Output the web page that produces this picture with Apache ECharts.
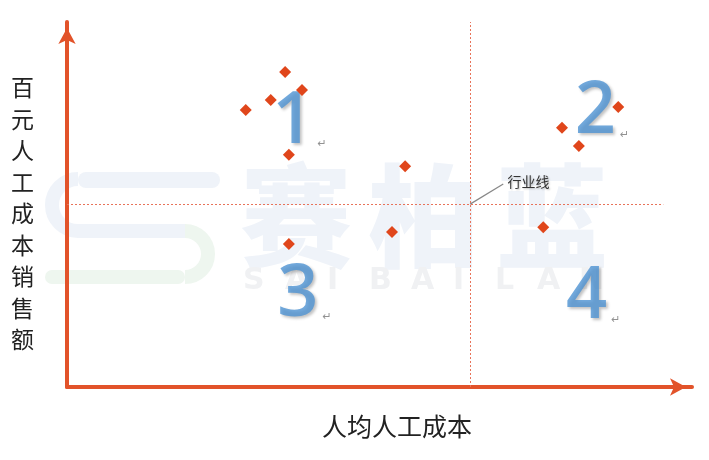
<!DOCTYPE html>
<html><head><meta charset="utf-8">
<script src="https://cdn.jsdelivr.net/npm/echarts@6/dist/echarts.min.js"></script>
<style>html,body{margin:0;padding:0;background:#fff}#c{width:709px;height:460px}</style>
</head><body><div id="c"></div>
<script>
// Data (x: 人均人工成本, y: 百元人工成本销售额), relative scale 0-100
var pointsX = [28.6, 32.6, 34.9, 37.6, 35.5, 54.1, 35.5, 52.0, 79.2, 88.2, 81.9, 76.2];
var pointsY = [75.9, 78.6, 86.3, 81.4, 63.6, 60.5, 39.2, 42.5, 71.0, 76.7, 66.0, 43.8];
var industryX = 64.5;
var industryY = 50.1;
var quadrantNames = ['1', '2', '3', '4'];
var quadrantX = [37.2, 85.6, 38.0, 84.2];
var quadrantY = [72.6, 75.3, 25.2, 24.4];
var industryLabel = '行业线';
var xName = '人均人工成本';
var yName = '百元人工成本销售额';

var axisColor = '#E2532A';
var chart = echarts.init(document.getElementById('c'));

var wm = [];
var wmBlue = '#EFF3F9', wmGreen = '#EEF6EF';
// watermark logo (stylised S)
wm.push({type:'rect', z:-1, shape:{x:78, y:172, width:142, height:16, r:8}, style:{fill:wmBlue}});
wm.push({type:'arc', z:-1, shape:{cx:78, cy:205, r:26, startAngle:Math.PI/2, endAngle:Math.PI*1.5, clockwise:true}, style:{stroke:wmBlue, lineWidth:14, fill:null}});
wm.push({type:'rect', z:-1, shape:{x:78, y:224, width:107, height:14}, style:{fill:wmBlue}});
wm.push({type:'arc', z:-1, shape:{cx:185, cy:254, r:23, startAngle:-Math.PI/2, endAngle:Math.PI/2, clockwise:true}, style:{stroke:wmGreen, lineWidth:14, fill:null}});
wm.push({type:'rect', z:-1, shape:{x:45, y:270, width:140, height:14, r:7}, style:{fill:wmGreen}});
var wmChars = ['赛','柏','蓝'];
for (var i = 0; i < wmChars.length; i++) {
  wm.push({type:'text', z:-1, x:240 + i*128, y:160, style:{text:wmChars[i], font:'900 112px "Noto Sans CJK SC"', fill:wmBlue}});
}
var wmLetters = 'SAIBAILAN'.split('');
for (var j = 0; j < wmLetters.length; j++) {
  wm.push({type:'text', z:-1, x:243 + j*42, y:266, style:{text:wmLetters[j], font:'900 30px "DejaVu Sans"', fill:'#F0F1F3'}});
}
// y-axis vertical title
var yChars = yName.split('');
for (var k = 0; k < yChars.length; k++) {
  wm.push({type:'text', x:11, y:76 + k*31.5, style:{text:yChars[k], font:'23px "Noto Sans CJK SC"', fill:'#222'}});
}
wm.push({type:'text', x:397, y:414, style:{text:xName, font:'25px "Noto Sans CJK SC"', fill:'#222', align:'center'}});

var scatterData = pointsX.map(function(x, i){ return [x, pointsY[i]]; });
var labelData = quadrantNames.map(function(n, i){ return {value:[quadrantX[i], quadrantY[i]], name:n}; });

chart.setOption({
  backgroundColor:'#fff',
  animation:false,
  graphic: wm,
  grid:{left:67, right:17, top:22, bottom:73},
  xAxis:{type:'value', min:0, max:100,
    axisLine:{show:true, lineStyle:{color:axisColor, width:4}, symbol:['none','arrow'], symbolSize:[13,16], symbolOffset:[0,-6]},
    axisTick:{show:false}, axisLabel:{show:false}, splitLine:{show:false}},
  yAxis:{type:'value', min:0, max:100,
    axisLine:{show:true, lineStyle:{color:axisColor, width:4}, symbol:['none','arrow'], symbolSize:[13,16], symbolOffset:[0,-6]},
    axisTick:{show:false}, axisLabel:{show:false}, splitLine:{show:false}},
  series:[
    {type:'scatter', data:scatterData, symbol:'diamond', symbolSize:12,
     itemStyle:{color:'#E0461B', opacity:1}, z:5,
     markLine:{silent:true, symbol:'none', animation:false,
       lineStyle:{color:'#E8735A', type:[2,2], width:1},
       label:{show:false},
       data:[
         [{coord:[industryX, 0]}, {coord:[industryX, 100]}],
         [{coord:[0, industryY]}, {coord:[95.4, industryY]}]
       ]}},
    {type:'scatter', data:[[industryX, industryY]], symbolSize:1, itemStyle:{color:'rgba(0,0,0,0)'}, silent:true,
     markLine:{silent:true, symbol:'none', animation:false,
       lineStyle:{color:'#888', type:'solid', width:1.2},
       label:{show:true, position:'end', formatter:industryLabel, color:'#333', fontSize:14,
         fontFamily:'Noto Sans CJK SC', textShadowColor:'rgba(0,0,0,0.25)', textShadowBlur:2, textShadowOffsetX:1, textShadowOffsetY:1},
       data:[[{coord:[industryX, industryY]}, {coord:[69.8, 55.6]}]]}},
    {type:'scatter', data:labelData, symbol:'circle', symbolSize:1, itemStyle:{color:'rgba(0,0,0,0)'}, silent:true, z:4,
     label:{show:true, position:'inside',
       formatter:function(p){ return '{n|' + p.name + '}{r|↵}'; },
       rich:{
         n:{fontSize:72, fontWeight:600, color:'#4F93D3', fontFamily:'Open Sans', textShadowColor:'rgba(0,0,0,0.3)', textShadowBlur:3, textShadowOffsetX:2, textShadowOffsetY:2, verticalAlign:'bottom'},
         r:{fontSize:11, color:'#777', fontFamily:'DejaVu Sans', verticalAlign:'bottom', padding:[0,0,8,4]}
       }}}
  ]
});
</script></body></html>
